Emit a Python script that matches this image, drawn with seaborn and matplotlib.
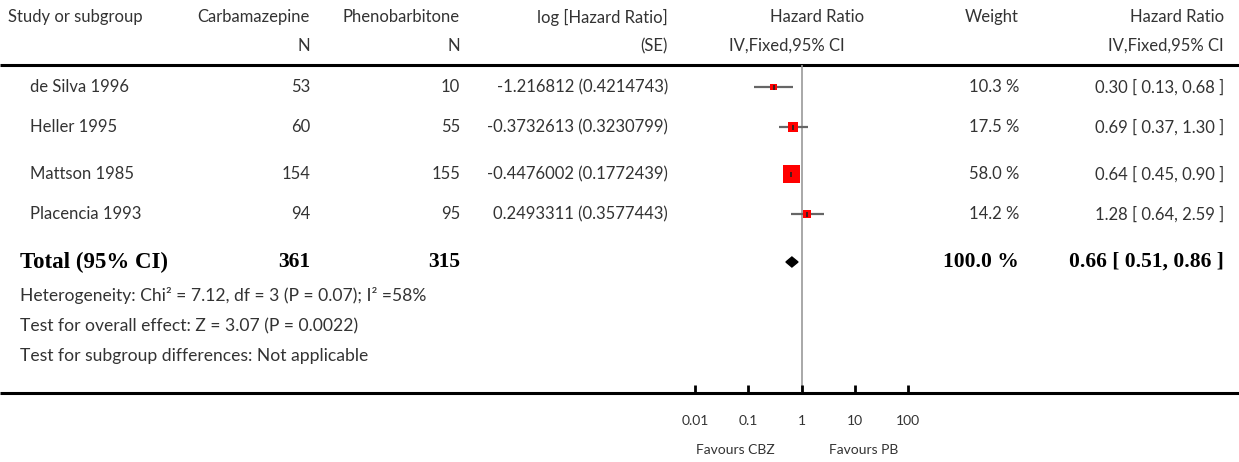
import matplotlib
matplotlib.use("Agg")
import matplotlib.pyplot as plt
import seaborn as sns
import pandas as pd
import numpy as np

# ---- data ----
studies = ["de Silva 1996", "Heller 1995", "Mattson 1985", "Placencia 1993"]
n_cbz = [53, 60, 154, 94]
n_pb = [10, 55, 155, 95]
log_hr_se = ["-1.216812 (0.4214743)", "-0.3732613 (0.3230799)",
             "-0.4476002 (0.1772439)", "0.2493311 (0.3577443)"]
hr = [0.30, 0.69, 0.64, 1.28]
ci_low = [0.13, 0.37, 0.45, 0.64]
ci_high = [0.68, 1.30, 0.90, 2.59]
weights = [10.3, 17.5, 58.0, 14.2]
total_n_cbz = 361
total_n_pb = 315
total_hr = 0.66
total_low = 0.51
total_high = 0.86
ticks = [0.01, 0.1, 1, 10, 100]
tick_labels = ["0.01", "0.1", "1", "10", "100"]
fav_left = "Favours CBZ"
fav_right = "Favours PB"
heterogeneity = "Heterogeneity: Chi\u00b2 = 7.12, df = 3 (P = 0.07); I\u00b2 =58%"
overall = "Test for overall effect: Z = 3.07 (P = 0.0022)"
subgroup = "Test for subgroup differences: Not applicable"

# ---- layout ----
W, H = 1239, 462
sns.set_style("white")
plt.rcParams["font.family"] = ["Lato", "DejaVu Sans"]
fig = plt.figure(figsize=(W / 100, H / 100), dpi=100)
ax0 = fig.add_axes([0, 0, 1, 1])
ax0.set_xlim(0, W)
ax0.set_ylim(H, 0)
ax0.axis("off")

TXT = "#333333"
FS = 12
row_y = [87, 127, 174, 214]
y_total = 262

def t(x, y, s, ha="left", **kw):
    kw.setdefault("fontsize", FS)
    kw.setdefault("color", TXT)
    ax0.text(x, y, s, ha=ha, va="center", **kw)

# headers
t(8, 17, "Study or subgroup")
t(310, 17, "Carbamazepine", "right")
t(310, 46, "N", "right")
t(460, 17, "Phenobarbitone", "right")
t(460, 46, "N", "right")
t(668, 17, "log [Hazard Ratio]", "right")
t(668, 46, "(SE)", "right")
t(864, 17, "Hazard Ratio", "right")
t(787, 46, "IV,Fixed,95% CI", "center")
t(1019, 17, "Weight", "right")
t(1224, 17, "Hazard Ratio", "right")
t(1224, 46, "IV,Fixed,95% CI", "right")
ax0.plot([0, W], [65, 65], color="black", lw=2.2, solid_capstyle="butt")
ax0.plot([0, W], [393, 393], color="black", lw=2.2, solid_capstyle="butt")

for i, s in enumerate(studies):
    y = row_y[i]
    t(30, y, s)
    t(310, y, str(n_cbz[i]), "right")
    t(460, y, str(n_pb[i]), "right")
    t(668, y, log_hr_se[i], "right")
    t(1019, y, f"{weights[i]:.1f} %", "right")
    t(1224, y, f"{hr[i]:.2f} [ {ci_low[i]:.2f}, {ci_high[i]:.2f} ]", "right")

bold = dict(fontsize=15.5, fontweight="bold", color="black", family="Liberation Serif")
t(20, y_total, "Total (95% CI)", **dict(bold, fontsize=16.5))
t(310, y_total, str(total_n_cbz), "right", **bold)
t(460, y_total, str(total_n_pb), "right", **bold)
t(1019, y_total, "100.0 %", "right", **bold)
t(1224, y_total, f"{total_hr:.2f} [ {total_low:.2f}, {total_high:.2f} ]", "right", **bold)

t(20, 296, heterogeneity, fontsize=12.6)
t(20, 326, overall, fontsize=12.6)
t(20, 356, subgroup, fontsize=12.6)

# ---- forest axes ----
x_left, x_right = 695, 908
ax = fig.add_axes([x_left / W, 0, (x_right - x_left) / W, 1])
ax.set_xscale("log")
ax.set_xlim(ticks[0], ticks[-1])
ax.set_ylim(H, 0)
ax.axis("off")
ax.patch.set_alpha(0)

ax.vlines(1, 65, 393, color="#999999", lw=1.2, clip_on=False)
ax.hlines(row_y, ci_low, ci_high, color="#666666", lw=1.6, clip_on=False)

df = pd.DataFrame({"hr": hr, "y": row_y, "w": weights})
sns.scatterplot(data=df, x="hr", y="y", size="w", sizes=(25, 150), marker="s",
                color="red", edgecolor="none", linewidth=0, legend=False,
                ax=ax, clip_on=False, zorder=3)
ax.vlines(hr, [y - 2.5 for y in row_y], [y + 2.5 for y in row_y],
          color="#222222", lw=1.2, zorder=4, clip_on=False)

dh = 5
ax.fill([total_low, total_hr, total_high, total_hr],
        [y_total, y_total - dh, y_total, y_total + dh],
        color="black", clip_on=False, zorder=3)

ax.vlines(ticks, 385, 393, color="black", lw=2, clip_on=False)
for tk, lb in zip(ticks, tick_labels):
    ax.text(tk, 421, lb, ha="center", va="center", fontsize=10, color=TXT)
ax.text(0.058, 450, fav_left, ha="center", va="center", fontsize=10, color=TXT)
ax.text(14.5, 450, fav_right, ha="center", va="center", fontsize=10, color=TXT)

ax.set_xlabel("")
ax.set_ylabel("")
fig.savefig("out.png", dpi=100)
